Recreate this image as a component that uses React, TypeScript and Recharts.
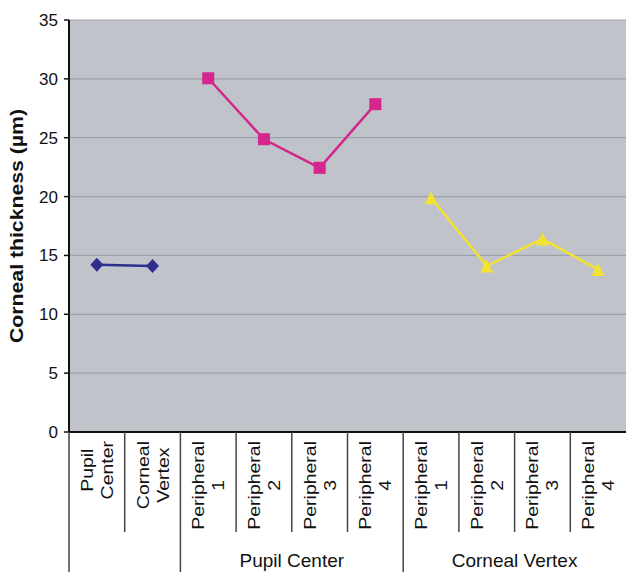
import React from "react";
import { LineChart, Line, XAxis, YAxis, CartesianGrid } from "recharts";

const categories: string[][] = [
  ["Pupil", "Center"],
  ["Corneal", "Vertex"],
  ["Peripheral", "1"],
  ["Peripheral", "2"],
  ["Peripheral", "3"],
  ["Peripheral", "4"],
  ["Peripheral", "1"],
  ["Peripheral", "2"],
  ["Peripheral", "3"],
  ["Peripheral", "4"],
];

const groups = [
  { label: "", start: 0, end: 1 },
  { label: "Pupil Center", start: 2, end: 5 },
  { label: "Corneal Vertex", start: 6, end: 9 },
];

const centerSeries: (number | null)[] = [14.2, 14.1, null, null, null, null, null, null, null, null];
const pupilCenterSeries: (number | null)[] = [null, null, 30.05, 24.87, 22.44, 27.85, null, null, null, null];
const cornealVertexSeries: (number | null)[] = [null, null, null, null, null, null, 19.9, 14.1, 16.4, 13.8];

const yTicks = [0, 5, 10, 15, 20, 25, 30, 35];

const data = categories.map((c, i) => ({
  name: c.join("\n"),
  center: centerSeries[i],
  pupil: pupilCenterSeries[i],
  vertex: cornealVertexSeries[i],
}));

const W = 627;
const H = 572;
const M = { top: 20, right: 1, left: 9, bottom: 0 };
const Y_AXIS_W = 60;
const X_AXIS_H = 140;
const PLOT_LEFT = M.left + Y_AXIS_W;
const PLOT_W = W - PLOT_LEFT - M.right;
const AXIS_Y = H - M.bottom - X_AXIS_H;
const BW = PLOT_W / categories.length;

const FONT = "'Liberation Sans', Arial, Helvetica, sans-serif";
const ROT_FS = 16.5;
const ROT_SCALE = 1.18;

let canvasCtx: CanvasRenderingContext2D | null = null;
function measure(s: string, font: string): number {
  if (!canvasCtx) {
    const c = document.createElement("canvas");
    canvasCtx = c.getContext("2d");
  }
  if (!canvasCtx) return s.length * 8;
  canvasCtx.font = font;
  return canvasCtx.measureText(s).width;
}

function XTick(props: any) {
  const { x, payload } = props;
  const idx: number = payload.index;
  const lines: string[] = String(payload.value).split("\n");
  const left = x - BW / 2;
  const grp = groups.find((g) => g.start === idx);
  const sepEnd = grp ? H : AXIS_Y + 100;
  const maxLen =
    Math.max(...lines.map((l) => measure(l, `${ROT_FS}px ${FONT}`))) * ROT_SCALE;
  const cy = AXIS_Y + 9 + maxLen / 2;
  const offsets = lines.length === 2 ? [-4, 16] : [6];
  return (
    <g>
      <line x1={left} x2={left} y1={AXIS_Y} y2={sepEnd} stroke="#444" strokeWidth={1.5} />
      <g transform={`translate(${x},${cy}) rotate(-90) scale(${ROT_SCALE},1)`}>
        {lines.map((l, i) => (
          <text
            key={i}
            x={0}
            y={offsets[i]}
            textAnchor="middle"
            fontSize={ROT_FS}
            fontFamily={FONT}
            fill="#111"
          >
            {l}
          </text>
        ))}
      </g>
      {grp && grp.label ? (
        <text
          x={left + ((grp.end - grp.start + 1) * BW) / 2}
          y={H - 5}
          textAnchor="middle"
          fontSize={19}
          fontFamily={FONT}
          fill="#111"
        >
          {grp.label}
        </text>
      ) : null}
    </g>
  );
}

function Diamond(props: any) {
  const { cx, cy, value } = props;
  if (value == null || cx == null || cy == null) return <g />;
  const w = 6.5, h = 7;
  return (
    <polygon
      points={`${cx},${cy - h} ${cx + w},${cy} ${cx},${cy + h} ${cx - w},${cy}`}
      fill="#2E2E8F"
    />
  );
}

function Square(props: any) {
  const { cx, cy, value } = props;
  if (value == null || cx == null || cy == null) return <g />;
  const s = 6;
  return <rect x={cx - s} y={cy - s} width={2 * s} height={2 * s} fill="#D4268C" />;
}

function Triangle(props: any) {
  const { cx, cy, value } = props;
  if (value == null || cx == null || cy == null) return <g />;
  const w = 6.5, h = 6.5;
  return (
    <polygon
      points={`${cx},${cy - h} ${cx + w},${cy + h} ${cx - w},${cy + h}`}
      fill="#F3E232"
    />
  );
}

function YLabel() {
  return (
    <g transform={`translate(23,${(M.top + AXIS_Y) / 2}) rotate(-90) scale(1.18,1)`}>
      <text x={0} y={0} textAnchor="middle" fontSize={18} fontWeight="bold" fontFamily={FONT} fill="#111">
        Corneal thickness (µm)
      </text>
    </g>
  );
}

export default function App() {
  return (
    <div style={{ position: "absolute", left: 0, top: 0, width: W, height: H, overflow: "hidden", background: "#fff" }}>
      <LineChart width={W} height={H} data={data} margin={M}>
        <CartesianGrid horizontal vertical={false} stroke="#9EA1A7" strokeWidth={1.2} fill="#C0C3CA" />
        <XAxis
          dataKey="name"
          interval={0}
          height={X_AXIS_H}
          padding={{ left: BW / 2, right: BW / 2 }}
          tick={<XTick />}
          tickLine={false}
          axisLine={{ stroke: "#111", strokeWidth: 2 }}
        />
        <YAxis
          width={Y_AXIS_W}
          domain={[0, 35]}
          ticks={yTicks}
          interval={0}
          tickSize={5}
          tickMargin={6}
          tick={{ fontSize: 17, fill: "#111", fontFamily: FONT }}
          tickLine={{ stroke: "#111", strokeWidth: 1.5 }}
          axisLine={{ stroke: "#111", strokeWidth: 2 }}
          label={{ content: () => <YLabel /> }}
        />
        <Line dataKey="center" stroke="#2E2E8F" strokeWidth={2.5} dot={<Diamond />} activeDot={false} isAnimationActive={false} connectNulls={false} />
        <Line dataKey="pupil" stroke="#D4268C" strokeWidth={2.5} dot={<Square />} activeDot={false} isAnimationActive={false} connectNulls={false} />
        <Line dataKey="vertex" stroke="#F3E232" strokeWidth={2.5} dot={<Triangle />} activeDot={false} isAnimationActive={false} connectNulls={false} />
      </LineChart>
    </div>
  );
}
